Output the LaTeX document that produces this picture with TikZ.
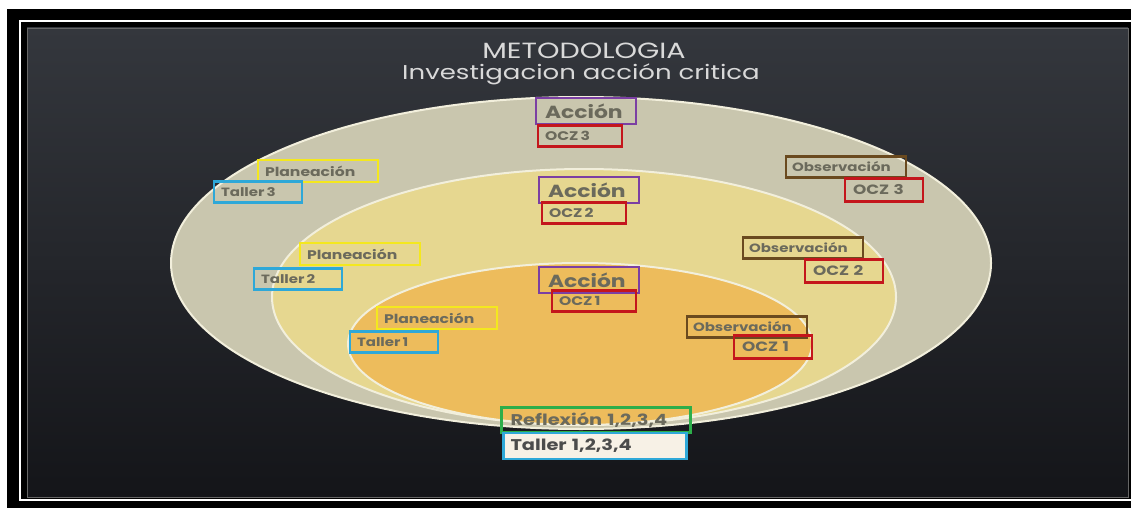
\documentclass[tikz,border=0pt]{standalone}
\usepackage{fontspec}
\setmainfont{Poppins}[FakeStretch=1.25]
\newfontfamily\titlefont{Poppins}[FakeStretch=1.3]
\usetikzlibrary{positioning}
\definecolor{slidetop}{HTML}{34373D}
\definecolor{slidebot}{HTML}{141519}
\definecolor{ringout}{HTML}{C9C6AE}
\definecolor{ringmid}{HTML}{E6D790}
\definecolor{ringin}{HTML}{EDBC5C}
\definecolor{rim}{HTML}{F2EFDC}
\definecolor{cplan}{HTML}{F4E81E}
\definecolor{ctaller}{HTML}{2EA8D8}
\definecolor{caccion}{HTML}{7B3FA3}
\definecolor{cocz}{HTML}{C4161C}
\definecolor{cobs}{HTML}{6A4A1F}
\definecolor{crefl}{HTML}{2DAE4A}
\definecolor{cream}{HTML}{F7F1E6}
\definecolor{txt}{HTML}{6B6A5C}

\begin{document}
\begin{tikzpicture}[x=1pt,y=-1pt,text=txt,
  bx/.style={draw,line width=2.2pt,inner xsep=7pt,inner ysep=0pt,align=left},
  plan/.style={bx,draw=cplan,text width=106pt,minimum height=22pt,font=\fontsize{12.5}{12}\selectfont\bfseries},
  taller/.style={bx,draw=ctaller,text width=74pt,minimum height=21pt,font=\fontsize{12}{12}\selectfont\bfseries},
  obs/.style={bx,draw=cobs,inner xsep=6pt,text width=108pt,minimum height=21pt,font=\fontsize{12}{12}\selectfont\bfseries},
  accion/.style={bx,draw=caccion,inner xsep=9pt,text width=82pt,minimum height=26pt,font=\fontsize{17.5}{16}\selectfont\bfseries},
  oczs/.style={bx,draw=cocz,text width=70pt,minimum height=21pt,font=\fontsize{12.5}{10}\selectfont\bfseries},
  oczr/.style={bx,draw=cocz,inner xsep=8pt,text width=62pt,minimum height=23pt,font=\fontsize{13.5}{13}\selectfont\bfseries},
  refl/.style={bx,draw=crefl,inner xsep=9pt,text width=171pt,minimum height=25pt,font=\fontsize{15.5}{15}\selectfont\bfseries},
  tallall/.style={bx,draw=ctaller,fill=cream,text=black!70,text width=169pt,minimum height=26pt,font=\fontsize{15.5}{15}\selectfont\bfseries},
  ttl/.style={text=black!15,font=\titlefont\fontsize{20}{20}\selectfont}]
\useasboundingbox (0,0) rectangle (1131,508);
\clip (0,0) rectangle (1131,508);
% frame and slide
\fill[white] (0,0) rectangle (1131,508);
\fill[black] (7,9) rectangle (1131,508);
\draw[white,line width=2pt] (20,21) rectangle (1140,500);
\shade[top color=slidetop,bottom color=slidebot] (27,28) rectangle (1128,497);
\draw[black!60,line width=0.8pt] (27,28) rectangle (1128,497);
% rings
\draw[rim,line width=2pt,fill=ringout] (581,263) ellipse [x radius=410,y radius=166];
\draw[rim,line width=2pt,fill=ringmid] (584,297) ellipse [x radius=312,y radius=128];
\draw[rim,line width=2pt,fill=ringin] (580,344) ellipse [x radius=232,y radius=81];
% title
\node[ttl,font=\titlefont\fontsize{22}{22}\selectfont] (tit) at (584,51) {METODOLOGIA};
\node[ttl] (sub) at (581,74) {Investigacion acción critica};
% boxes per cycle
\foreach \n/\ax/\ay/\cx/\cy in {3/586/111/580/136, 2/589/190/584/213, 1/589/280/594/301}{
  \node[accion] (acc\n) at (\ax,\ay) {Acción};
  \node[oczs] (oczc\n) at (\cx,\cy) {OCZ\,\n};
}
\foreach \n/\px/\py/\tx/\ty in {3/318/171/258/192, 2/360/254/298/279, 1/437/318/394/342}{
  \node[plan] (plan\n) at (\px,\py) {Planeación};
  \node[taller] (tall\n) at (\tx,\ty) {Taller\,\n};
}
\foreach \n/\ox/\oy/\rx/\ry in {3/846/167/884/190, 2/803/248/844/271, 1/747/327/773/347}{
  \node[obs] (obs\n) at (\ox,\oy) {Observación};
  \node[oczr] (oczr\n) at (\rx,\ry) {OCZ \n};
}
\node[refl] (refl) at (596,420) {Reflexión 1,2,3,4};
\node[tallall] (tallall) at (595,446) {Taller 1,2,3,4};
\end{tikzpicture}
\end{document}
